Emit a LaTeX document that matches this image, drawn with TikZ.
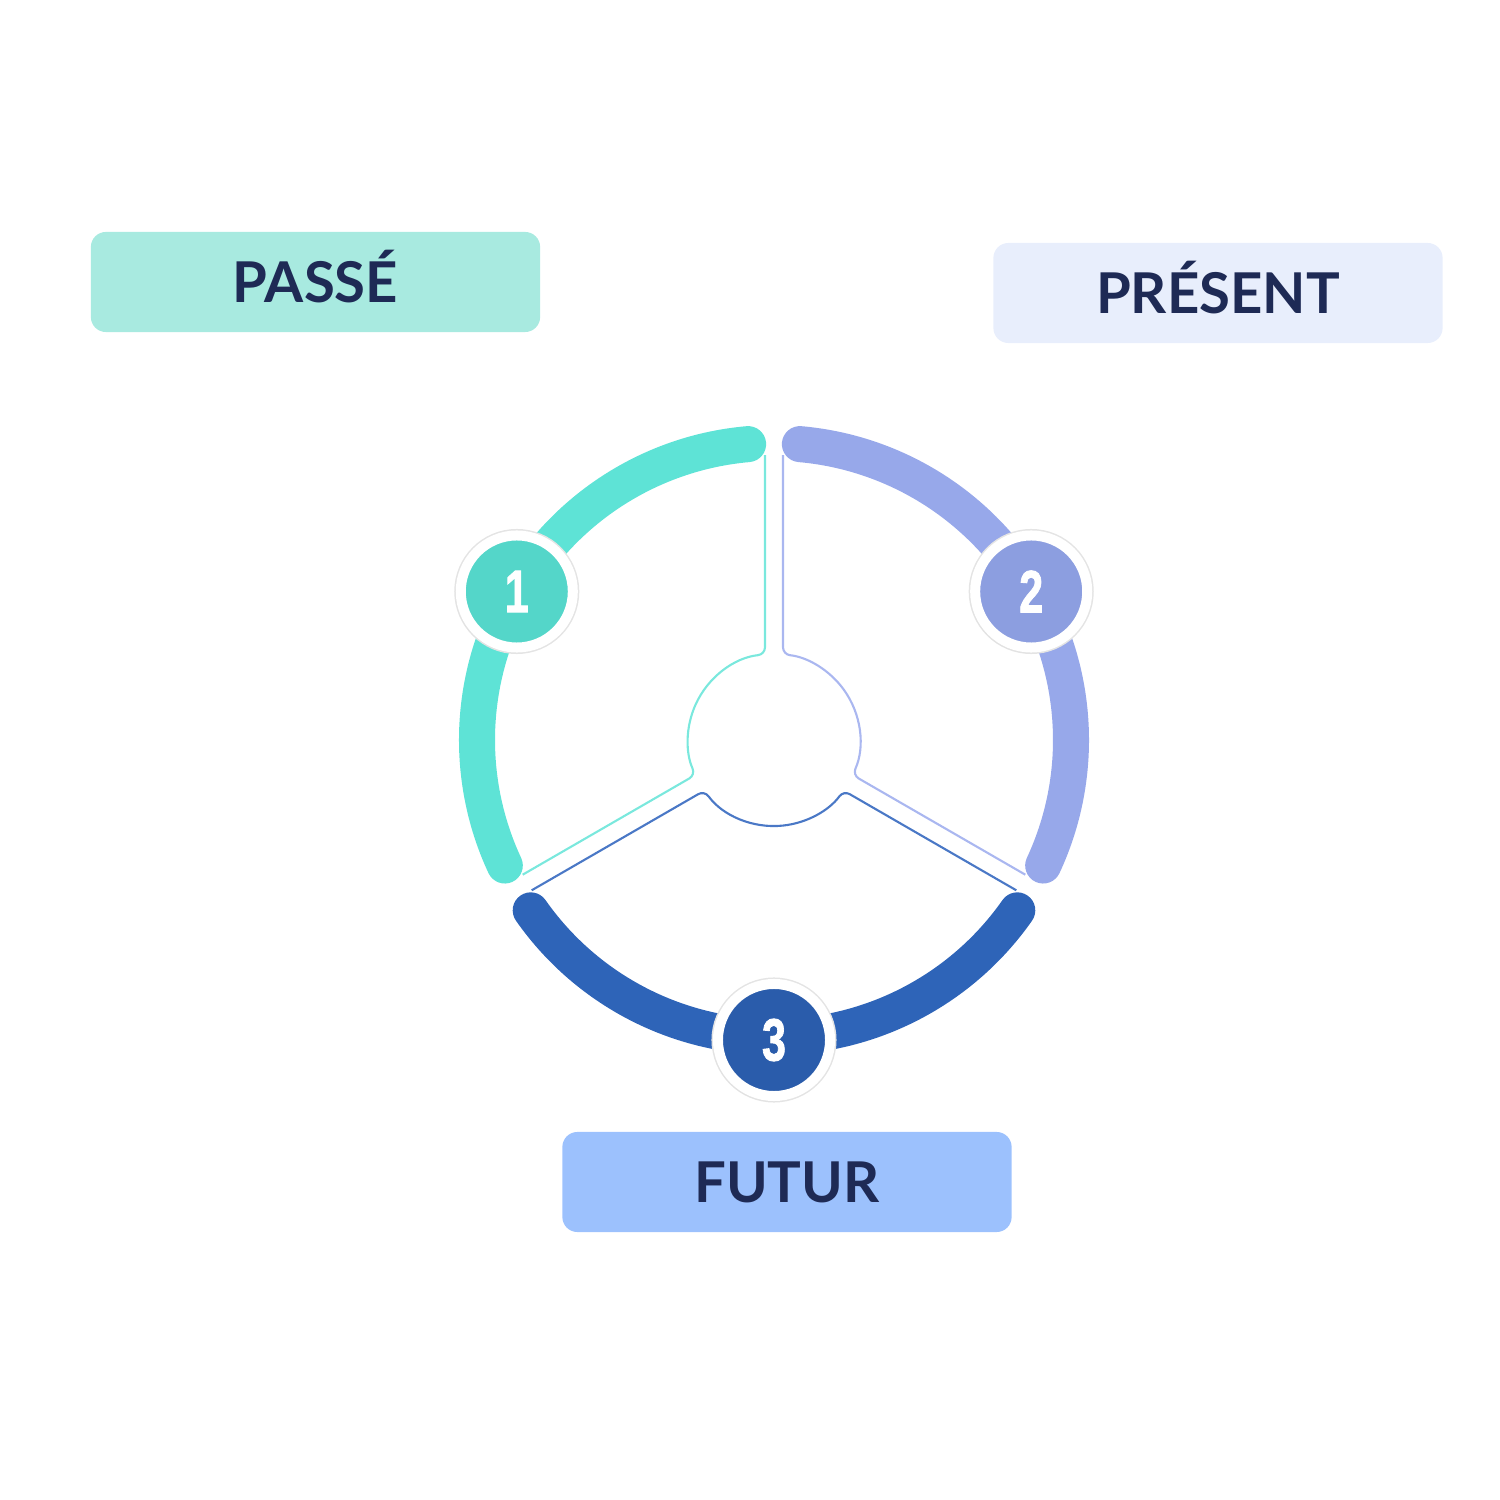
\documentclass[tikz,border=0pt]{standalone}
\usepackage{fontspec}
\usepackage{graphicx}
\setmainfont{Lato}
\newfontfamily\digitfont[BoldFeatures={FakeBold=1.6}]{Liberation Sans}
\usetikzlibrary{shadows}

\definecolor{inktext}{HTML}{1E2A55}
\definecolor{passearc}{HTML}{5EE3D6}
\definecolor{passedisk}{HTML}{54D6C9}
\definecolor{passerim}{HTML}{7AE8DD}
\definecolor{passebox}{HTML}{A8EAE0}
\definecolor{presentarc}{HTML}{97A8EA}
\definecolor{presentdisk}{HTML}{8C9EE0}
\definecolor{presentrim}{HTML}{AAB7F0}
\definecolor{presentbox}{HTML}{E8EEFC}
\definecolor{futurarc}{HTML}{2E64B8}
\definecolor{futurdisk}{HTML}{2A5CAB}
\definecolor{futurrim}{HTML}{4A78C6}
\definecolor{futurbox}{HTML}{9CC1FD}
\definecolor{badgeedge}{HTML}{E4E4E4}

\begin{document}
\begin{tikzpicture}[x=0.01cm, y=0.01cm,
    labelbox/.style={rounded corners=0.15cm, minimum width=4.49cm, minimum height=1cm,
        inner sep=0pt, text height=11.5pt, text depth=0pt, text=inktext,
        font=\fontsize{16}{19}\selectfont\bfseries},
    ring/.style={line width=0.36cm, line cap=round},
    rim/.style={line width=0.6pt, rounded corners=0.07cm},
    badge/.style={circle, minimum size=1.12cm, inner sep=0pt, draw=white, line width=0.1cm,
        preaction={draw=badgeedge, line width=0.13cm},
        circular drop shadow={shadow xshift=-0.02cm, shadow yshift=-0.02cm, opacity=0.14, shadow scale=1.06},
        text=white, font=\digitfont\bfseries\fontsize{17}{17}\selectfont}]
    \useasboundingbox (-774,-760) rectangle (726,740);

    % thin outlines of the three parts
    \begin{scope}[rotate=60]
        \draw[rim, passerim] (242.3,150.3) -- (69.6,50.6) arc[start angle=36, end angle=144, radius=86] -- (-242.3,150.3);
    \end{scope}
    \begin{scope}[rotate=-60]
        \draw[rim, presentrim] (242.3,150.3) -- (69.6,50.6) arc[start angle=36, end angle=144, radius=86] -- (-242.3,150.3);
    \end{scope}
    \begin{scope}[rotate=180]
        \draw[rim, futurrim] (242.3,150.3) -- (69.6,50.6) arc[start angle=36, end angle=144, radius=86] -- (-242.3,150.3);
    \end{scope}

    % thick arcs
    \draw[ring, passearc] (95:297) arc[start angle=95, end angle=205, radius=297];
    \draw[ring, presentarc] (-25:297) arc[start angle=-25, end angle=85, radius=297];
    \draw[ring, futurarc] (215:297) arc[start angle=215, end angle=325, radius=297];

    % numbered badges
    \node[badge, fill=passedisk] (n1) at (150:297) {\scalebox{0.72}[1]{1}};
    \node[badge, fill=presentdisk] (n2) at (30:297) {\scalebox{0.72}[1]{2}};
    \node[badge, fill=futurdisk] (n3) at (270:300) {\scalebox{0.72}[1]{3}};

    % labels
    \node[labelbox, fill=passebox] (passe) at (-458.5,458) {PASSÉ};
    \node[labelbox, fill=presentbox] (present) at (444,447) {PRÉSENT};
    \node[labelbox, fill=futurbox] (futur) at (13,-442) {FUTUR};
\end{tikzpicture}
\end{document}
